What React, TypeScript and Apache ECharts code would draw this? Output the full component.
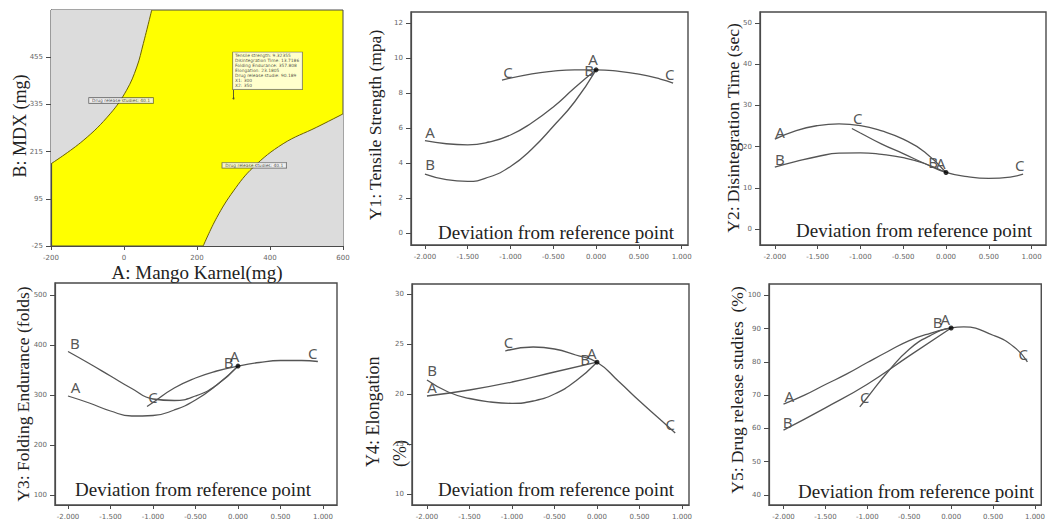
import { useEffect, useRef } from 'react';
import * as echarts from 'echarts';

const serif = "'Liberation Serif', 'DejaVu Serif', serif";
const sans = "'DejaVu Sans', 'Noto Sans', sans-serif";
const letterFont = "'Noto Sans', 'Open Sans', sans-serif";

// ---------- Panel 1: overlay (design space) plot ----------
const contourXTicks = [-200, 0, 200, 400, 600];
const contourYTicks = [-25, 95, 215, 335, 455];
const upperLeftEdge = [[-200, 184], [-112, 243], [-38, 311], [7, 371], [35, 430], [53, 490], [76, 575]];
const lowerRightEdge = [[217, -25], [254, 47], [300, 115], [354, 175], [436, 235], [528, 277], [592, 307], [600, 311]];
const optimumPoint = [300, 350];
const optimumFlagTop = [300, 372];
const optimumLines = [
  'Tensile strength: 9.32355',
  'Disintegration Time: 13.7186',
  'Folding Endurance: 357.808',
  'Elongation: 23.1805',
  'Drug release studie: 90.189',
  'X1: 300',
  'X2: 350',
];
const contourFlags = [
  [-8, 345, 'Drug release studies: 40.1'],
  [357, 180, 'Drug release studies: 40.1'],
];

// ---------- Perturbation plots ----------
const devTicks = [-2, -1.5, -1, -0.5, 0, 0.5, 1];

// Y1 Tensile strength
const y1Ticks = [0, 2, 4, 6, 8, 10, 12];
const y1Ref = 9.32355;
const y1A = [[-2, 5.28], [-1.75, 5.1], [-1.5, 5.04], [-1.25, 5.2], [-1, 5.6], [-0.75, 6.3], [-0.5, 7.2], [-0.25, 8.3], [0, y1Ref]];
const y1B = [[-2, 3.37], [-1.75, 3.05], [-1.5, 2.95], [-1.25, 3.2], [-1, 3.8], [-0.75, 4.8], [-0.5, 6.1], [-0.25, 7.5], [0, y1Ref]];
const y1C = [[-1.1, 8.74], [-0.75, 9.1], [-0.5, 9.25], [-0.25, 9.32], [0, y1Ref], [0.25, 9.25], [0.5, 9.08], [0.75, 8.8], [0.9, 8.57]];
const y1Labels = [[-1.94, 5.77, 'A'], [-1.94, 3.94, 'B'], [-1.03, 9.2, 'C'], [0.86, 9.09, 'C'], [-0.035, 9.95, 'A'], [-0.08, 9.3, 'B']];

// Y2 Disintegration time
const y2Ticks = [0, 10, 20, 30, 40, 50];
const y2Ref = 13.7186;
const y2A = [[-2, 21.8], [-1.75, 23.9], [-1.5, 25.1], [-1.25, 25.5], [-1, 25.1], [-0.75, 23.8], [-0.5, 21.8], [-0.25, 18.7], [0, y2Ref]];
const y2B = [[-2, 15], [-1.75, 16.4], [-1.5, 17.6], [-1.25, 18.4], [-1, 18.5], [-0.75, 18.1], [-0.5, 17.3], [-0.25, 15.9], [0, y2Ref]];
const y2C = [[-1.1, 24.4], [-1, 23.3], [-0.75, 20.6], [-0.5, 18.3], [-0.25, 15.9], [0, y2Ref], [0.25, 12.7], [0.5, 12.3], [0.75, 12.6], [0.9, 13.3]];
const y2Labels = [[-1.94, 23.5, 'A'], [-1.94, 17.0, 'B'], [-1.03, 26.9, 'C'], [0.86, 15.5, 'C'], [-0.15, 16.3, 'B'], [-0.06, 16.0, 'A']];

// Y3 Folding endurance
const y3Ticks = [100, 200, 300, 400, 500];
const y3Ref = 357.808;
const y3A = [[-2, 298], [-1.75, 284], [-1.5, 268], [-1.25, 258], [-1, 259], [-0.75, 270], [-0.5, 290], [-0.25, 320], [0, y3Ref]];
const y3B = [[-2, 387], [-1.75, 363], [-1.5, 338], [-1.25, 313], [-1, 292], [-0.75, 289], [-0.5, 298], [-0.25, 320], [0, y3Ref]];
const y3C = [[-1.07, 277], [-1, 285], [-0.75, 314], [-0.5, 334], [-0.25, 348], [0, y3Ref], [0.25, 365], [0.5, 369], [0.75, 369], [0.94, 367]];
const y3Labels = [[-1.92, 405, 'B'], [-1.91, 317, 'A'], [-1.0, 297, 'C'], [-0.11, 367, 'B'], [-0.04, 378, 'A'], [0.88, 385, 'C']];

// Y4 Elongation
const y4Ticks = [10, 15, 20, 25, 30];
const y4Ref = 23.1805;
const y4A = [[-2, 19.8], [-1.5, 20.4], [-1, 21.2], [-0.5, 22.2], [0, y4Ref]];
const y4B = [[-2, 21.4], [-1.75, 20.2], [-1.5, 19.55], [-1.25, 19.2], [-1, 19.07], [-0.75, 19.3], [-0.5, 20.0], [-0.25, 21.3], [0, y4Ref]];
const y4C = [[-1.08, 24.3], [-0.75, 24.7], [-0.5, 24.5], [-0.25, 23.9], [0, y4Ref], [0.25, 21.3], [0.5, 19.3], [0.75, 17.4], [0.92, 16.1]];
const y4Labels = [[-1.94, 22.4, 'B'], [-1.94, 20.7, 'A'], [-1.04, 25.2, 'C'], [-0.14, 23.5, 'B'], [-0.06, 24.1, 'A'], [0.86, 17.0, 'C']];

// Y5 Drug release
const y5Ticks = [40, 50, 60, 70, 80, 90, 100];
const y5Ref = 90.189;
const y5A = [[-2, 67.3], [-1.75, 70], [-1.5, 73.2], [-1.25, 76.3], [-1, 79.8], [-0.75, 83.2], [-0.5, 86.4], [-0.25, 88.6], [0, y5Ref]];
const y5B = [[-2, 59.5], [-1.5, 66.2], [-1, 73.3], [-0.5, 81.8], [0, y5Ref]];
const y5C = [[-1.09, 66.5], [-1, 69.3], [-0.75, 77.2], [-0.5, 83.8], [-0.25, 87.9], [0, y5Ref], [0.15, 90.5], [0.5, 88.0], [0.75, 84.5], [0.91, 80.0]];
const y5Labels = [[-1.93, 69.7, 'A'], [-1.95, 61.8, 'B'], [-1.03, 69.5, 'C'], [-0.16, 92.0, 'B'], [-0.07, 92.8, 'A'], [0.86, 82.3, 'C']];

const axisTitles = {
  b: 'B: MDX (mg)',
  a: 'A: Mango Karnel(mg)',
  y1: 'Y1: Tensile Strength (mpa)',
  y2: 'Y2: Disintegration Time (sec)',
  y3: 'Y3: Folding Endurance (folds)',
  y4: 'Y4: Elongation',
  y4unit: '(%)',
  y5: 'Y5: Drug release studies  (%)',
  dev: 'Deviation from reference point',
};

const LINE = '#555';
const BOX = '#4a4a4a';
const CLEAR = 'rgba(0,0,0,0)';

function makeXAxis(i: number, min: number, max: number, ticks: number[], fmt: (v: number) => string) {
  return {
    type: 'value', gridIndex: i, min, max,
    axisLine: { show: true, onZero: false, lineStyle: { color: BOX, width: 1.2 } },
    axisTick: { show: true, length: 4, customValues: ticks, lineStyle: { color: BOX } },
    axisLabel: { customValues: ticks, formatter: fmt, fontSize: 7, color: '#666', fontFamily: sans, margin: 8 },
    splitLine: { show: false },
  };
}
function makeYAxis(i: number, min: number, max: number, ticks: number[]) {
  return {
    type: 'value', gridIndex: i, min, max,
    axisLine: { show: true, onZero: false, lineStyle: { color: BOX, width: 1.2 } },
    axisTick: { show: true, length: 5, customValues: ticks, lineStyle: { color: BOX } },
    axisLabel: { customValues: ticks, formatter: (v: number) => String(v), fontSize: 7, color: '#666', fontFamily: sans, margin: 8 },
    splitLine: { show: false },
  };
}

function curve(i: number, data: number[][]) {
  return {
    type: 'line', xAxisIndex: i, yAxisIndex: i, data, smooth: 0.5, showSymbol: false, silent: true,
    lineStyle: { color: LINE, width: 1.3 },
  };
}
function refDot(i: number, y: number) {
  return {
    type: 'scatter', xAxisIndex: i, yAxisIndex: i, data: [[0, y]], symbolSize: 5, silent: true,
    itemStyle: { color: '#000' }, z: 5,
  };
}
function letters(i: number, data: (number | string)[][]) {
  return {
    type: 'scatter', xAxisIndex: i, yAxisIndex: i, data, symbolSize: 1, silent: true,
    itemStyle: { color: CLEAR },
    label: {
      show: true, position: 'inside', formatter: (p: any) => p.data[2],
      color: '#2a2a2a', fontSize: 15, fontFamily: letterFont,
    },
  };
}

export default function App() {
  const ref = useRef<HTMLDivElement>(null);
  useEffect(() => {
    document.body.style.margin = '0';
    const chart = echarts.init(ref.current!, null, { renderer: 'svg' });
    const fmt3 = (v: number) => v.toFixed(3);
    const serifText = (x: number, y: number, text: string, size: number, rotate = false, align = 'center') => ({
      type: 'text', x, y, rotation: rotate ? Math.PI / 2 : 0, silent: true,
      style: { text, fontSize: size, fontFamily: serif, fill: '#222', textAlign: align, textVerticalAlign: 'middle' },
    });

    const option: any = {
      animation: false,
      backgroundColor: '#fff',
      grid: [
        { left: 51, top: 10, width: 292, height: 236, show: true, backgroundColor: '#ffff00', borderColor: BOX, borderWidth: 1 },
        { left: 411, top: 12, width: 277, height: 233, show: true, borderColor: BOX, borderWidth: 1.4 },
        { left: 760, top: 12, width: 286, height: 233, show: true, borderColor: BOX, borderWidth: 1.4 },
        { left: 55, top: 283, width: 282, height: 222, show: true, borderColor: BOX, borderWidth: 1.4 },
        { left: 412, top: 284, width: 277, height: 221, show: true, borderColor: BOX, borderWidth: 1.4 },
        { left: 769, top: 284, width: 278, height: 221, show: true, borderColor: BOX, borderWidth: 1.4 },
      ],
      xAxis: [
        makeXAxis(0, -200, 600, contourXTicks, (v: number) => String(v)),
        makeXAxis(1, -2.163, 1.074, devTicks, fmt3),
        makeXAxis(2, -2.173, 1.168, devTicks, fmt3),
        makeXAxis(3, -2.153, 1.165, devTicks, fmt3),
        makeXAxis(4, -2.176, 1.082, devTicks, fmt3),
        makeXAxis(5, -2.173, 1.075, devTicks, fmt3),
      ],
      yAxis: [
        makeYAxis(0, -25, 575, contourYTicks),
        makeYAxis(1, -0.686, 12.63, y1Ticks),
        makeYAxis(2, -3.88, 52.67, y2Ticks),
        makeYAxis(3, 80, 524, y3Ticks),
        makeYAxis(4, 8.9, 31.0, y4Ticks),
        makeYAxis(5, 37, 103.4, y5Ticks),
      ],
      series: [
        {
          type: 'line', xAxisIndex: 0, yAxisIndex: 0, data: upperLeftEdge, smooth: 0.4, showSymbol: false, silent: true,
          lineStyle: { color: '#6b6000', width: 1 },
          areaStyle: { color: '#dcdcdc', opacity: 1, origin: 'end' },
        },
        {
          type: 'line', xAxisIndex: 0, yAxisIndex: 0, data: lowerRightEdge, smooth: 0.4, showSymbol: false, silent: true,
          lineStyle: { color: '#6b6000', width: 1 },
          areaStyle: { color: '#dcdcdc', opacity: 1, origin: 'start' },
        },
        {
          type: 'line', xAxisIndex: 0, yAxisIndex: 0, data: [optimumPoint, optimumFlagTop], showSymbol: false, silent: true,
          lineStyle: { color: '#333', width: 0.8 }, z: 6,
        },
        {
          type: 'scatter', xAxisIndex: 0, yAxisIndex: 0, data: [optimumFlagTop], symbolSize: 1, silent: true, z: 7,
          itemStyle: { color: CLEAR },
          label: {
            show: true, position: [0, 0], align: 'left', verticalAlign: 'bottom',
            formatter: optimumLines.join('\n'), fontSize: 4.4, lineHeight: 5, color: '#222', fontFamily: sans,
            backgroundColor: '#fff', borderColor: '#555', borderWidth: 0.7, padding: [1, 3, 1, 2],
          },
        },
        {
          type: 'scatter', xAxisIndex: 0, yAxisIndex: 0, data: [optimumPoint], symbolSize: 2, silent: true, z: 7,
          itemStyle: { color: '#333' },
        },
        {
          type: 'scatter', xAxisIndex: 0, yAxisIndex: 0, data: contourFlags, symbolSize: 1, silent: true, z: 7,
          itemStyle: { color: CLEAR },
          label: {
            show: true, position: 'inside', formatter: (p: any) => p.data[2], fontSize: 4.4, color: '#222', fontFamily: sans,
            backgroundColor: '#f4f4f4', borderColor: '#444', borderWidth: 0.7, padding: [0.5, 3, 0.5, 3],
          },
        },
        curve(1, y1A), curve(1, y1B), curve(1, y1C), refDot(1, y1Ref), letters(1, y1Labels),
        curve(2, y2A), curve(2, y2B), curve(2, y2C), refDot(2, y2Ref), letters(2, y2Labels),
        curve(3, y3A), curve(3, y3B), curve(3, y3C), refDot(3, y3Ref), letters(3, y3Labels),
        curve(4, y4A), curve(4, y4B), curve(4, y4C), refDot(4, y4Ref), letters(4, y4Labels),
        curve(5, y5A), curve(5, y5B), curve(5, y5C), refDot(5, y5Ref), letters(5, y5Labels),
      ],
      graphic: [
        serifText(20, 126, axisTitles.b, 18, true),
        serifText(197, 272, axisTitles.a, 19),
        serifText(375, 125, axisTitles.y1, 17.5, true),
        serifText(733, 128, axisTitles.y2, 17.5, true),
        serifText(23, 394, axisTitles.y3, 17.5, true),
        serifText(373, 467, axisTitles.y4, 18, true, 'left'),
        serifText(400, 467, axisTitles.y4unit, 18, true, 'left'),
        serifText(737, 390, axisTitles.y5, 17.5, true),
        serifText(556, 232, axisTitles.dev, 19),
        serifText(914, 230, axisTitles.dev, 19),
        serifText(193, 489, axisTitles.dev, 19),
        serifText(556, 489, axisTitles.dev, 19),
        serifText(916, 491, axisTitles.dev, 19),
      ],
    };
    chart.setOption(option);
    return () => chart.dispose();
  }, []);
  return <div ref={ref} style={{ width: 1048, height: 522 }} />;
}
